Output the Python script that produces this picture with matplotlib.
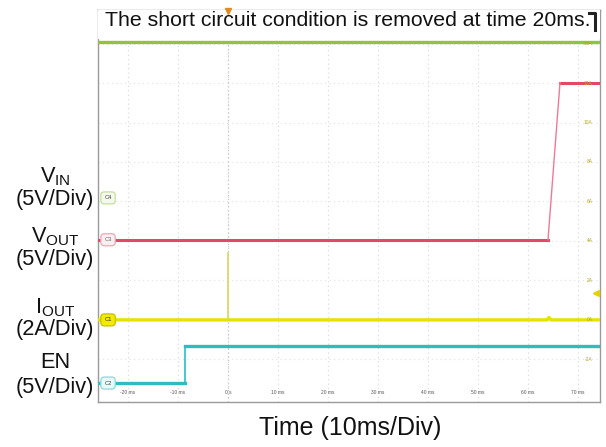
"""Scope capture: short circuit removal, VIN / VOUT / IOUT / EN."""
import matplotlib

matplotlib.use("Agg")
import matplotlib.pyplot as plt  # noqa: E402
from matplotlib.lines import Line2D  # noqa: E402

plt.rcParams["font.family"] = ["Liberation Sans", "DejaVu Sans"]

# time in ms, values in physical units
vin_t = [-26, 74.4]
vin_v = [19.8, 19.8]

vout_t = [-26, 64.0, 66.4, 74.4]
vout_v = [0.0, 0.0, 19.9, 19.9]

iout_t = [-26, 63.8, 64.2, 64.6, 74.4]
iout_a = [0.0, 0.0, 0.12, 0.0, 0.0]
spike_t = [0.05, 0.05]
spike_a = [0.0, 3.4]

en_t = [-26, -8.7, -8.7, 74.4]
en_v = [0.0, 0.0, 4.7, 4.7]

# channel name, volts (or amps) per div, offset in divisions
channels = {
    "C4": (5.0, 3.09),
    "C3": (5.0, 2.03),
    "C1": (2.0, 0.0),
    "C2": (5.0, -1.6),
}
iout_trigger = 1.36

time_ticks = [-20, -10, 0, 10, 20, 30, 40, 50, 60, 70]
time_labels = ["-20 ms", "-10 ms", "0 s", "10 ms", "20 ms", "30 ms", "40 ms",
               "50 ms", "60 ms", "70 ms"]
amp_ticks = [-2, 0, 2, 4, 6, 8, 10, 12, 14]

GREEN = "#8cc63e"
RED = "#e2486a"
YELLOW = "#e6e200"
CYAN = "#2fbcc0"


def to_div(values, ch):
    per_div, off = channels[ch]
    return [v / per_div + off for v in values]


W, H = 606, 447
fig = plt.figure(figsize=(W / 100, H / 100), dpi=100)
ax = fig.add_axes([98 / W, (H - 402) / H, (600 - 98) / W, (402 - 10) / H])
ax.set_xlim(-26, 74.4)
ax.set_ylim(-2.08, 7.85)
ax.set_xticks([])
ax.set_yticks([])
for s in ax.spines.values():
    s.set_color("#9a9a9a")
    s.set_linewidth(1.0)

# faint scope graticule
for t in time_ticks:
    ax.axvline(t, color="#d8d8d8", lw=0.8, ls=(0, (1, 3)), zorder=0)
for a in amp_ticks:
    ax.axhline(a / 2.0, color="#e2e2e2", lw=0.8, ls=(0, (1, 3)), zorder=0)
ax.axvline(0, color="#c8c8c8", lw=0.9, ls=(0, (1, 2)), zorder=0)

# traces
ax.plot(vin_t, to_div(vin_v, "C4"), color=GREEN, lw=2.4, zorder=3)
vout_d = to_div(vout_v, "C3")
ax.plot(vout_t[:2], vout_d[:2], color=RED, lw=2.2, zorder=3)
ax.plot(vout_t[2:], vout_d[2:], color=RED, lw=2.2, zorder=3)
ax.plot(vout_t[1:3], vout_d[1:3], color="#f07a96", lw=1.0, zorder=3)
ax.plot(iout_t, to_div(iout_a, "C1"), color=YELLOW, lw=2.4, zorder=3)
ax.plot(spike_t, to_div(spike_a, "C1"), color="#d8d860", lw=1.2, zorder=3)
en_d = to_div(en_v, "C2")
ax.plot(en_t[:2], en_d[:2], color=CYAN, lw=2.4, zorder=3)
ax.plot(en_t[2:], en_d[2:], color=CYAN, lw=2.4, zorder=3)
ax.plot(en_t[1:3], en_d[1:3], color=CYAN, lw=1.2, zorder=3)

# tiny time labels at the bottom
for t, lab in zip(time_ticks, time_labels):
    ax.text(t, -1.85, lab, fontsize=3.5, color="#555555", ha="center", va="center")

# tiny amp labels on the right
for a in amp_ticks:
    ax.text(0.985, a / 2.0, f"{a}A", transform=ax.get_yaxis_transform(),
            fontsize=3.5, color="#b8a820", ha="right", va="center")
ax.plot([0.992], [iout_trigger / 2.0], marker="<", ms=5, color="#e6d000",
        transform=ax.get_yaxis_transform(), clip_on=False, zorder=5)

# channel badges
badge_style = {
    "C4": ("#f4f9ec", "#c5e09a", "#444444"),
    "C3": ("#fdeef2", "#f0a6b6", "#666666"),
    "C1": ("#f2ea00", "#c9c000", "#333333"),
    "C2": ("#e9f8f8", "#8fd8da", "#444444"),
}
for ch, (fc, ec, tc) in badge_style.items():
    y = to_div([0.0], ch)[0]
    ax.text(0.02, y, ch, transform=ax.get_yaxis_transform(), fontsize=4.2,
            color=tc, ha="center", va="center", zorder=6,
            bbox=dict(boxstyle="round,pad=0.6", fc=fc, ec=ec, lw=0.9))

# white banner with the note
ax.axhspan(7.85 - 28 / 39.5, 7.85, color="white", zorder=4)
fig.text(105 / W, 1 - 21 / H, "The short circuit condition is removed at time 20ms.",
         fontsize=15.3, ha="left", va="center", color="#111111", zorder=10)
fig.add_artist(Line2D([589 / W, 595 / W, 595 / W], [1 - 13 / H, 1 - 13 / H, 1 - 30 / H],
                      color="#222222", lw=2.2))
ax.plot([0], [7.82], marker="v", ms=5, color="#e08a1e", clip_on=False, zorder=8)

# channel labels on the left
left = [
    (r"$\mathregular{V_{IN}}$", 177),
    ("(5V/Div)", 199),
    (r"$\mathregular{V_{OUT}}$", 237),
    ("(5V/Div)", 259),
    (r"$\mathregular{I_{OUT}}$", 308),
    ("(2A/Div)", 329),
    ("EN", 362),
    ("(5V/Div)", 388),
]
for txt, ypx in left:
    fig.text(55 / W, 1 - ypx / H, txt, fontsize=15.7, ha="center", va="center",
             color="#111111")

fig.text(350 / W, 1 - 428 / H, "Time (10ms/Div)", fontsize=18, ha="center",
         va="center", color="#111111")

fig.savefig("out.png", dpi=100)
